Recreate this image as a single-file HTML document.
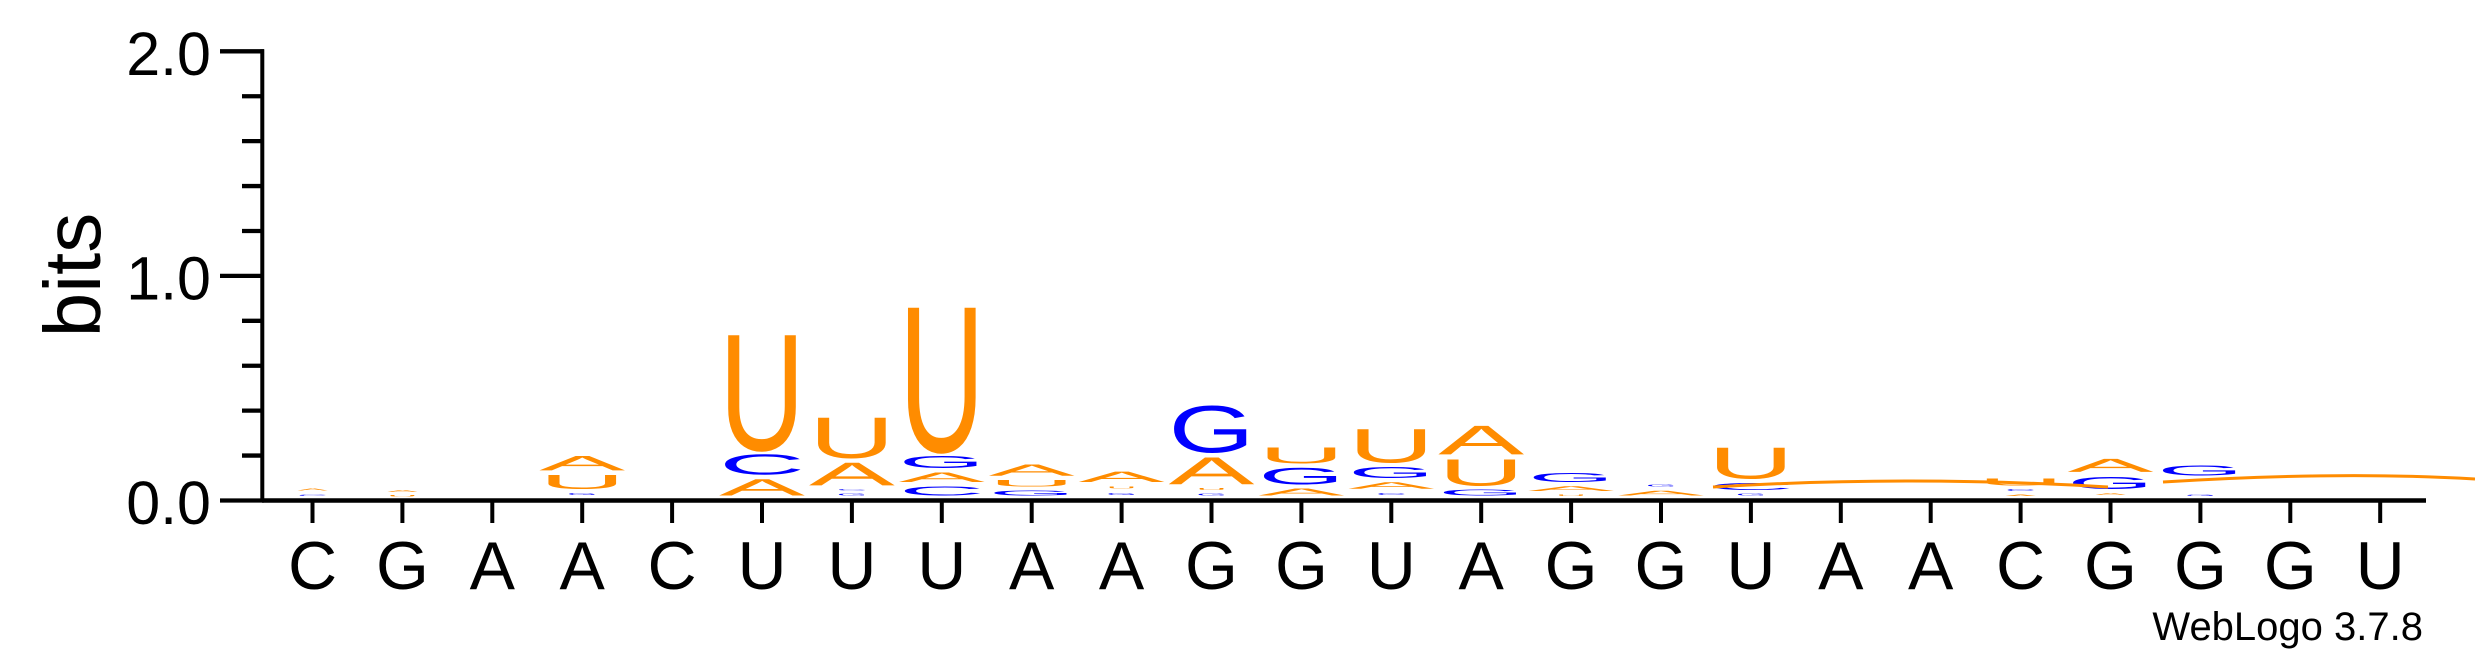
<!DOCTYPE html>
<html><head><meta charset="utf-8"><style>
html,body{margin:0;padding:0;background:#fff}
svg{display:block}
text{font-family:"Liberation Sans",sans-serif}
</style></head><body>
<svg id="chart" width="2475" height="667" viewBox="0 0 2475 667" xmlns="http://www.w3.org/2000/svg">
<g id="axes"></g>
<g id="stacks"></g>
<path d="M1713,487 Q1910,475 2108,487" fill="none" stroke="#FF8C00" stroke-width="3"/>
<path d="M2163,482 Q2340,471 2475,479" fill="none" stroke="#FF8C00" stroke-width="3"/>
<text x="0" y="0" font-size="80" text-anchor="middle" transform="translate(100,275) rotate(-90)">bits</text>
<text x="2423" y="640" font-size="40" text-anchor="end">WebLogo 3.7.8</text>
</svg>
<script>
const positions = ["C","G","A","A","C","U","U","U","A","A","G","G","U","A","G","G","U","A","A","C","G","G","G","U"];
// each column: letters bottom to top, heights in bits (" " = empty slot)
const stackLetters = [
 ["C","A"],["U","A"],[],["G","U","A"],[],
 ["A","C","U"],["G","C","A","U"],["C","A","G","U"],["G","U","A"],["G","U","A"],
 ["G","U","A","G"],["A","G","U"],["C","A","G","U"],["G","U","A"],["U","A","G"],
 ["A","G"],["G","C","U"],[],[],["A","C","U"],
 ["A","G","A"],["G"," ","G"],[],[]
];
const stackBits = [
 [0.02,0.03],[0.015,0.03],[],[0.03,0.082,0.084],[],
 [0.093,0.109,0.55],[0.025,0.02,0.123,0.205],[0.06,0.062,0.073,0.685],[0.04,0.048,0.07],[0.03,0.03,0.066],
 [0.025,0.025,0.142,0.23],[0.05,0.093,0.09],[0.03,0.048,0.069,0.17],[0.045,0.138,0.15],[0.02,0.04,0.06],
 [0.04,0.025],[0.025,0.05,0.16],[],[],[0.02,0.025,0.05],
 [0.03,0.075,0.078],[0.02,0.07,0.065],[],[]
];
const yTicks = [0,0.2,0.4,0.6,0.8,1.0,1.2,1.4,1.6,1.8,2.0];
const yLabels = ["0.0","1.0","2.0"];

const NS="http://www.w3.org/2000/svg";
const x0=312.5, dx=89.9, axisY=500.5, pxPerBit=224.6, letterBase=497.5, colW=86;
const xPos=i=>x0+i*dx;
const yPos=b=>axisY-b*pxPerBit;
const colors={A:"#FF8C00",U:"#FF8C00",C:"#0000FF",G:"#0000FF"};
function mk(tag,attrs,parent){const e=document.createElementNS(NS,tag);for(const k in attrs)e.setAttribute(k,attrs[k]);parent.appendChild(e);return e;}
const axes=document.getElementById('axes');
let ln=mk('line',{x1:262.3,y1:502,x2:262.3,y2:49.3,stroke:'#000','stroke-width':4},axes);


ln=mk('line',{x1:262,y1:axisY,x2:2426,y2:axisY,stroke:'#000','stroke-width':4.5},axes);


yTicks.forEach(t=>{
  const major=Math.abs(t-Math.round(t))<1e-6;
  const l=mk('line',{x1:major?220:242,x2:264,y1:yPos(t),y2:yPos(t),stroke:'#000','stroke-width':4.3},axes);
  
  
});
yLabels.forEach(s=>{
  const t=mk('text',{x:211,y:yPos(parseFloat(s))+23.5,'font-size':61,'text-anchor':'end'},axes);
  t.textContent=s;
  
  
});
positions.forEach((p,i)=>{
  const l=mk('line',{x1:xPos(i),x2:xPos(i),y1:500,y2:523,stroke:'#000','stroke-width':4},axes);
  
  
  const t=mk('text',{x:xPos(i),y:589,'font-size':68,'text-anchor':'middle'},axes);
  t.textContent=p;
  
  
});
const stacks=document.getElementById('stacks');
stackLetters.forEach((letters,i)=>{
  let acc=0;
  letters.forEach((L,j)=>{
    const slot=stackBits[i][j]*pxPerBit;
    const slotBottom=letterBase-acc*pxPerBit;
    acc+=stackBits[i][j];
    if(L===" ") return;
    const tiny=slot<8;
    const h=tiny?slot*0.3:Math.max(slot-4,slot*0.5);
    const w=tiny?colW*0.35:colW;
    const base=slotBottom-(slot-h)/2;
    const sy=h/71.6;
    const t=mk('text',{x:0,y:0,'font-size':100,fill:colors[L],textLength:w,lengthAdjust:'spacingAndGlyphs',
      transform:`translate(${xPos(i)-w/2},${base}) scale(1,${sy})`},stacks);
    t.textContent=L;
    
    
  });
});
</script>
</body></html>
